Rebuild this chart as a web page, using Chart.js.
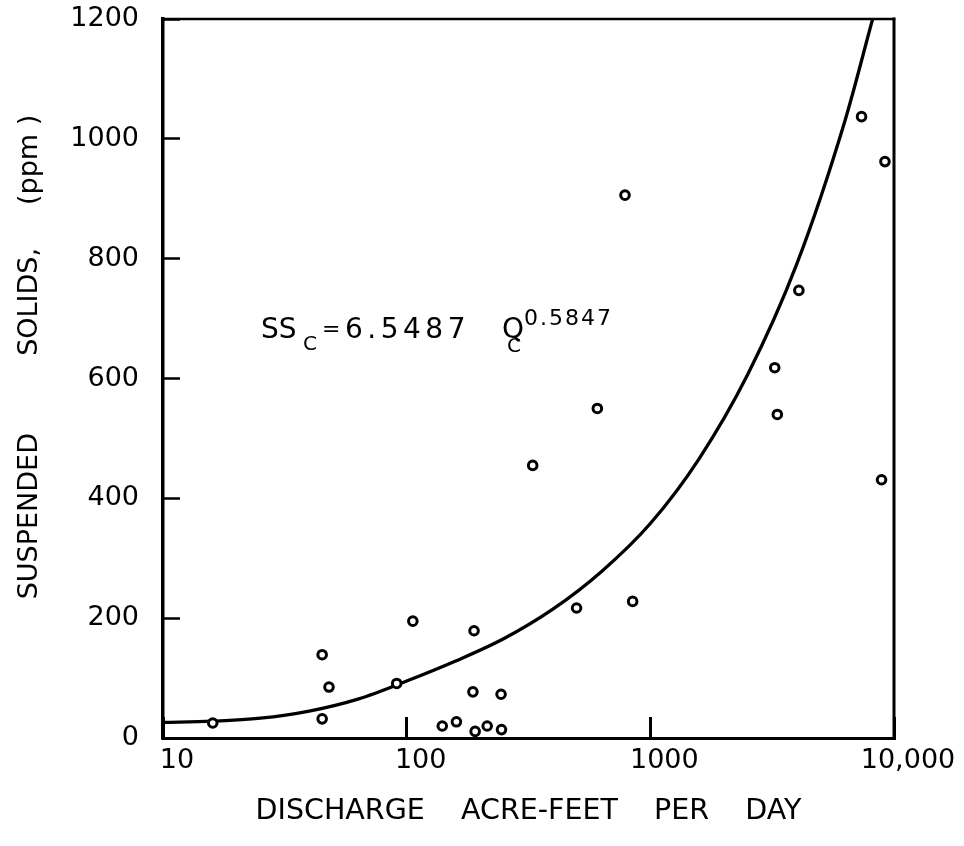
<!DOCTYPE html>
<html>
<head>
<meta charset="utf-8">
<script src="https://cdn.jsdelivr.net/npm/chart.js@4/dist/chart.umd.min.js"></script>
<style>
  html, body { margin: 0; padding: 0; background: #fff; }
  #wrap { width: 964px; height: 846px; }
</style>
</head>
<body>
<div id="wrap"><canvas id="c" width="964" height="846"></canvas></div>
<script>
// Observed storm samples: discharge (acre-feet per day) and suspended solids (ppm)
const discharge = [16, 45, 48, 45, 91, 106, 189, 187, 140, 160, 191, 214, 245, 244,
                   498, 846, 787, 606, 329, 9180, 4070, 3240, 3320, 8890, 7360];
const solids    = [25, 139, 85, 32, 91, 195, 179, 77, 20, 27, 11, 20, 14, 73,
                   217, 228, 906, 550, 455, 962, 747, 618, 540, 431, 1037];

// Fitted rating curve SSc = 6.5487 Qc^0.5847, as traced on the plot
const curveQ  = [10, 15.8, 25.1, 39.8, 63.1, 100, 158, 251, 398, 631, 1000, 1585, 2512, 3981, 6310, 8170];
const curveSS = [26, 28, 33, 45, 65, 95, 128, 166, 215, 278, 358, 466, 607, 790, 1032, 1200];

// Axis ticks
const xTicks = [10, 100, 1000, 10000];
const xTickLabels = ['10', '100', '1000', '10,000'];
const yTicks = [0, 200, 400, 600, 800, 1000, 1200];
const yTickLabels = ['0', '200', '400', '600', '800', '1000', '1200'];

const FONT = 'DejaVu Sans';
const INK = '#000';

// Scale boxes get fixed sizes and no label overhang, so the plot box sits where intended
function noOverhang(s) {
  s.paddingTop = 0;
  s.paddingBottom = 0;
  s.paddingLeft = 0;
  s.paddingRight = 0;
}

// Closes the plot box on the top and right sides
const frame = {
  id: 'frame',
  beforeDatasetsDraw(chart) {
    const { ctx, chartArea: a } = chart;
    ctx.save();
    ctx.strokeStyle = INK;
    ctx.lineCap = 'square';
    ctx.lineWidth = 2.5;
    ctx.beginPath();
    ctx.moveTo(a.left, a.top);
    ctx.lineTo(a.right, a.top);
    ctx.stroke();
    ctx.lineWidth = 3;
    ctx.beginPath();
    ctx.moveTo(a.right, a.top);
    ctx.lineTo(a.right, a.bottom);
    ctx.stroke();
    ctx.restore();
  }
};

// Regression equation written inside the plot
const equation = {
  id: 'equation',
  afterDraw(chart) {
    const ctx = chart.ctx;
    ctx.save();
    ctx.fillStyle = INK;
    ctx.textBaseline = 'alphabetic';
    ctx.textAlign = 'left';
    ctx.letterSpacing = '0px';
    ctx.font = `28px "${FONT}"`;
    ctx.fillText('SS', 261, 338);
    ctx.font = `20px "${FONT}"`;
    ctx.fillText('C', 303, 350);
    ctx.font = `22px "${FONT}"`;
    ctx.fillText('=', 322, 336);
    ctx.font = `28px "${FONT}"`;
    ctx.letterSpacing = '4.5px';
    ctx.fillText('6.5487', 345, 338);
    ctx.letterSpacing = '0px';
    ctx.fillText('Q', 502, 338);
    ctx.font = `20px "${FONT}"`;
    ctx.fillText('C', 507, 352);
    ctx.font = `22px "${FONT}"`;
    ctx.letterSpacing = '2px';
    ctx.fillText('0.5847', 524, 325);
    ctx.restore();
  }
};

new Chart(document.getElementById('c'), {
  type: 'scatter',
  data: {
    datasets: [
      {
        type: 'line',
        label: 'SSc = 6.5487 Qc^0.5847',
        data: curveQ.map((q, i) => ({ x: q, y: curveSS[i] })),
        borderColor: INK,
        borderWidth: 3.3,
        pointRadius: 0,
        fill: false,
        cubicInterpolationMode: 'monotone',
        order: 2
      },
      {
        label: 'Samples',
        data: discharge.map((q, i) => ({ x: q, y: solids[i] })),
        pointStyle: 'circle',
        pointRadius: 4.3,
        pointBorderWidth: 3,
        backgroundColor: '#fff',
        borderColor: INK,
        order: 1
      }
    ]
  },
  options: {
    responsive: false,
    animation: false,
    devicePixelRatio: 1,
    layout: { padding: { top: 19, right: 70, left: 0, bottom: 0 } },
    plugins: {
      legend: { display: false },
      title: { display: false },
      tooltip: { enabled: false }
    },
    scales: {
      x: {
        type: 'logarithmic',
        position: 'bottom',
        min: 10,
        max: 10000,
        afterBuildTicks: s => { s.ticks = xTicks.map(v => ({ value: v })); },
        afterFit: s => { s.height = 108; noOverhang(s); },
        ticks: {
          callback: v => xTickLabels[xTicks.indexOf(v)],
          autoSkip: false,
          maxRotation: 0,
          labelOffset: 14,
          padding: 28,
          color: INK,
          font: { family: FONT, size: 27 }
        },
        grid: {
          drawOnChartArea: false,
          drawTicks: true,
          tickLength: -21,
          tickWidth: 3,
          tickColor: INK
        },
        border: { color: INK, width: 3 },
        title: {
          display: true,
          text: 'DISCHARGE    ACRE-FEET    PER    DAY',
          color: INK,
          font: { family: FONT, size: 28.5 },
          padding: { top: 0, bottom: 17 }
        }
      },
      y: {
        type: 'linear',
        min: 0,
        max: 1200,
        afterBuildTicks: s => { s.ticks = yTicks.map(v => ({ value: v })); },
        afterFit: s => { s.width = 163; noOverhang(s); },
        ticks: {
          callback: v => yTickLabels[yTicks.indexOf(v)],
          padding: 41,
          color: INK,
          font: { family: FONT, size: 27 }
        },
        grid: {
          drawOnChartArea: false,
          drawTicks: true,
          tickLength: -17,
          tickWidth: 2.5,
          tickColor: INK
        },
        border: { color: INK, width: 3.5 },
        title: {
          display: true,
          text: '     SUSPENDED         SOLIDS,     (ppm )',
          color: INK,
          font: { family: FONT, size: 27 },
          padding: { top: 14, bottom: 0 }
        }
      }
    }
  },
  plugins: [frame, equation]
});
</script>
</body>
</html>
